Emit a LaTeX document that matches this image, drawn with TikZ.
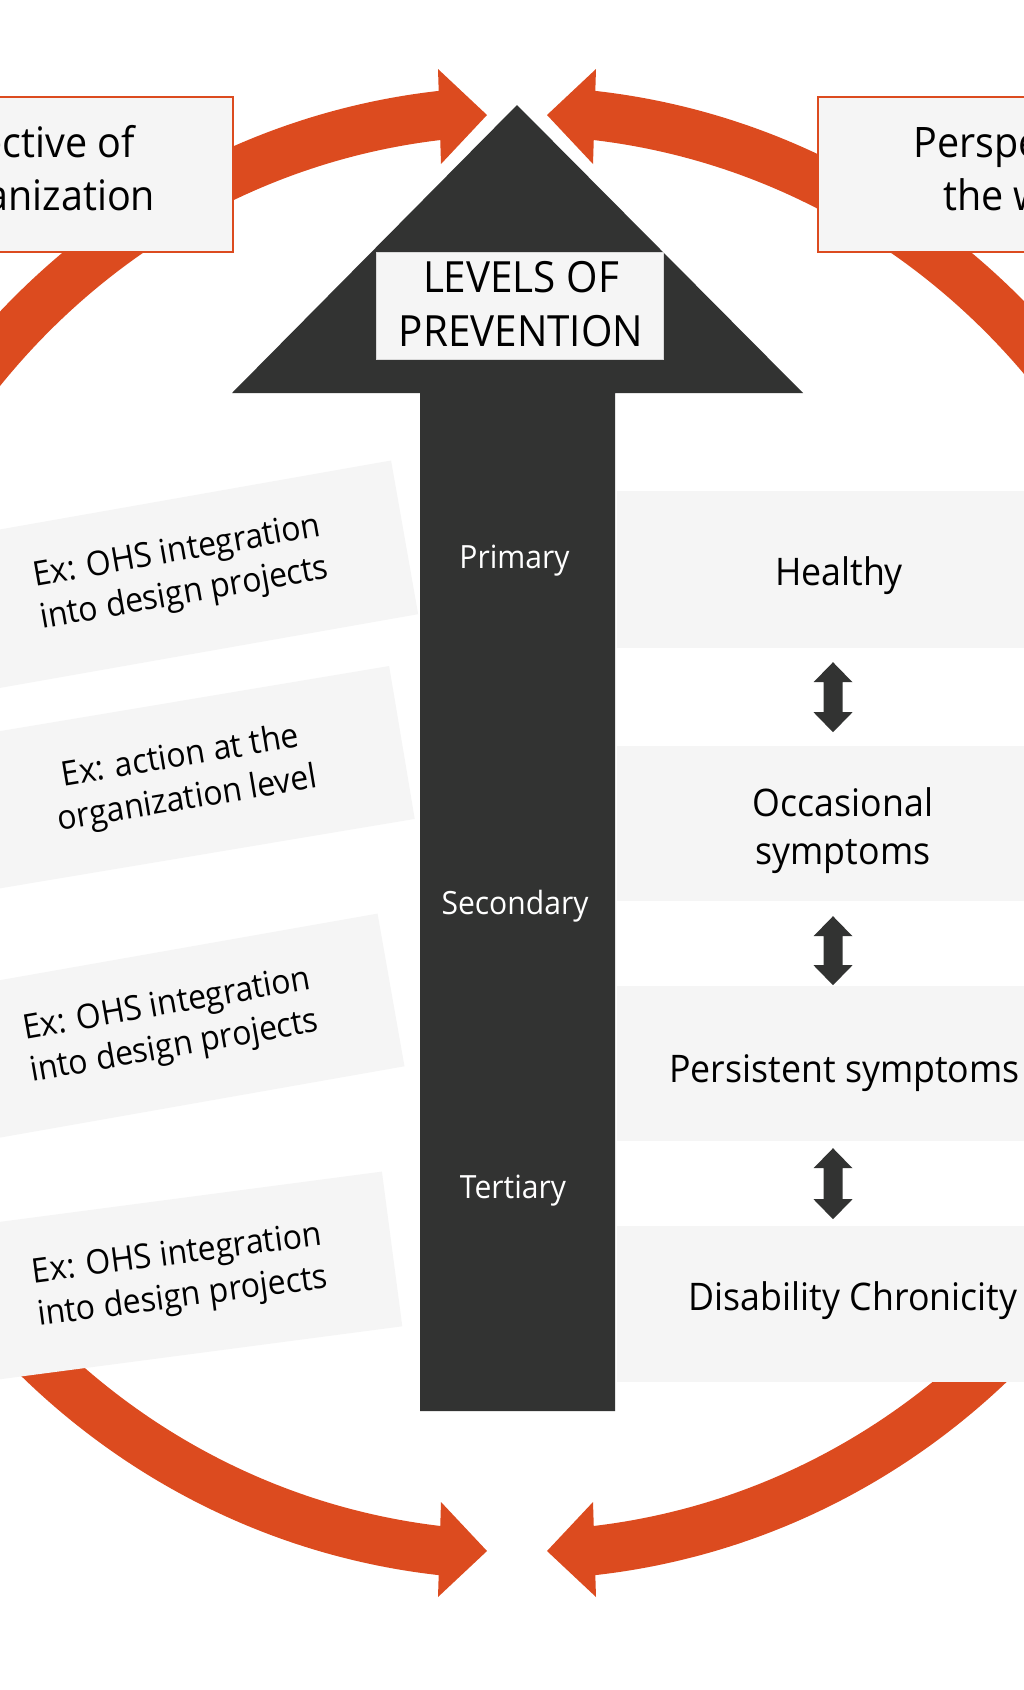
\documentclass[tikz,border=0pt]{standalone}
\usepackage{fontspec}
\setmainfont{Open Sans}[FakeStretch=0.94]
\usetikzlibrary{calc}
\definecolor{orng}{RGB}{220,75,31}
\definecolor{darkg}{RGB}{50,51,50}
\definecolor{boxg}{RGB}{245,245,245}
\newcommand{\udarrow}[2]{%
  \fill[updown] (#1) -- ++(19.5,20) -- ++(-10,0) -- ++(0,#2) -- ++(10,0)
    -- ++(-19.5,20) -- ++(-19.5,-20) -- ++(10,0) -- ++(0,-#2) -- ++(-10,0) -- cycle;}
\begin{document}
\begin{tikzpicture}[x=1pt,y=-1pt,
  ring/.style={draw=orng,line width=49pt,line cap=butt},
  headtri/.style={fill=orng},
  topbox/.style={draw=orng,line width=1.5pt,fill=boxg,minimum width=450pt,minimum height=155pt,inner sep=0pt},
  sidebox/.style={fill=boxg,minimum width=450pt,inner sep=0pt},
  lvlbox/.style={draw=black!15,line width=1pt,fill=boxg,minimum width=287pt,minimum height=107pt,inner sep=0pt},
  toptext/.style={align=center,inner sep=0pt,font=\fontsize{42}{53}\selectfont},
  lvltext/.style={align=center,inner sep=0pt,font=\fontsize{43}{54}\selectfont},
  rtext/.style={align=center,inner sep=0pt,font=\fontsize{38}{48}\selectfont},
  ltext/.style={align=center,inner sep=0pt,font=\fontsize{34}{43}\selectfont},
  lvlname/.style={inner sep=0pt,text=white,font=\fontsize{32}{40}\selectfont},
  updown/.style={fill=darkg},
  bigarrow/.style={fill=darkg}
]
\useasboundingbox (0,0) rectangle (1024,1690);
\fill[white] (0,0) rectangle (1024,1690);
\clip (0,0) rectangle (1024,1690);

% orange ring arrows
\coordinate (c) at (517,833);
\draw[ring] ([shift={(180:698 and 722)}]c) arc[start angle=180,end angle=264,x radius=698,y radius=722];
\draw[ring] ([shift={(276:698 and 722)}]c) arc[start angle=276,end angle=360,x radius=698,y radius=722];
\draw[ring] ([shift={(0:698 and 722)}]c) arc[start angle=0,end angle=84,x radius=698,y radius=722];
\draw[ring] ([shift={(96:698 and 722)}]c) arc[start angle=96,end angle=180,x radius=698,y radius=722];
\fill[headtri] (438,69) -- (487,115) -- (441,164) -- cycle;
\fill[headtri] (596,69) -- (547,115) -- (593,164) -- cycle;
\fill[headtri] (441,1502) -- (487,1551) -- (438,1597) -- cycle;
\fill[headtri] (593,1502) -- (547,1551) -- (596,1597) -- cycle;

% top perspective boxes
\node[topbox] (porg) at (8,174.5) {};
\node[toptext] (porgt) at (5,172.6) {Perspective of\\the organization};
\node[topbox] (pwrk) at (1043,174.5) {};
\node[toptext] (pwrkt) at (1043,167.7) {Perspective of\\the worker};

% left example boxes
\node[sidebox,minimum height=156pt,rotate=10] (l1) at (183,576.4) {};
\node[ltext,rotate=10] (l1t) at (181,574) {Ex: OHS integration\\into design projects};
\node[sidebox,minimum height=155pt,rotate=9.5] (l2) at (180,779.6) {};
\node[ltext,rotate=9.5] (l2t) at (184,779) {Ex: action at the\\organization level};
\node[sidebox,minimum height=155pt,rotate=10] (l3) at (169.4,1029) {};
\node[ltext,rotate=10] (l3t) at (171,1027) {Ex: OHS integration\\into design projects};
\node[sidebox,minimum height=156pt,rotate=7.5] (l4) at (169,1278.3) {};
\node[ltext,rotate=7.5] (l4t) at (180,1277) {Ex: OHS integration\\into design projects};

% right state boxes
\node[sidebox,minimum height=157pt] (r1) at (842,569.5) {};
\node[sidebox,minimum height=155pt] (r2) at (842,823.5) {};
\node[sidebox,minimum height=155pt] (r3) at (842,1063.5) {};
\node[sidebox,minimum height=156pt] (r4) at (842,1304) {};
\node[rtext,anchor=base] (r1t) at (839,585) {Healthy};
\node[rtext] (r2t) at (843,831.1) {Occasional\\symptoms};
\node[rtext,anchor=base] (r3t) at (844.5,1082) {Persistent symptoms};
\node[rtext,anchor=base] (r4t) at (853,1310) {Disability Chronicity};

% central arrow
\fill[bigarrow] (517,105) -- (803,393) -- (615,393) -- (615,1411) -- (420,1411) -- (420,393) -- (232,393) -- cycle;
\node[lvlbox] (lvl) at (519.5,305.5) {};
\node[lvltext] (lvlt) at (521,304.5) {LEVELS OF\\PREVENTION};
\node[lvlname,anchor=base] (prim) at (514.5,568) {Primary};
\node[lvlname,anchor=base] (sec) at (515,914) {Secondary};
\node[lvlname,anchor=base] (ter) at (513,1198) {Tertiary};

% up-down arrows between states
\coordinate (ax) at (833,0);
\coordinate (u1) at ($(r1.south -| ax)+(0,14)$);
\coordinate (u2) at ($(r2.south -| ax)+(0,15)$);
\coordinate (u3) at ($(r3.south -| ax)+(0,7)$);
\udarrow{u1}{30}
\udarrow{u2}{29}
\udarrow{u3}{31}
\end{tikzpicture}
\end{document}
